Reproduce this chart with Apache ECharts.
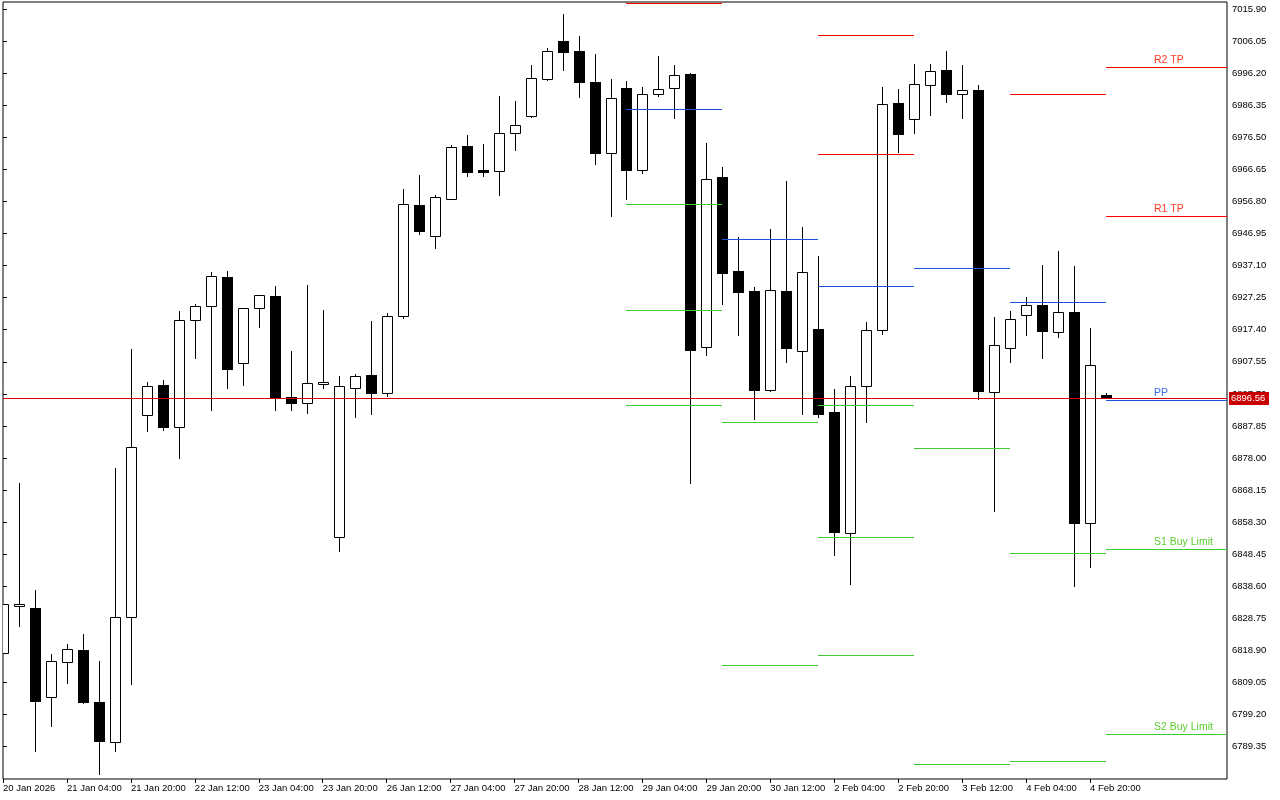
<!DOCTYPE html>
<html><head><meta charset="utf-8">
<script src="https://cdn.jsdelivr.net/npm/echarts@6/dist/echarts.min.js"></script>
<style>html,body{margin:0;padding:0;background:#fff}#chart{width:1280px;height:800px}</style>
</head><body><div id="chart"></div>
<script>
// H4 bar times (index = bar number)
const times = [
 '20 Jan 12:00','20 Jan 16:00','20 Jan 20:00','21 Jan 00:00','21 Jan 04:00','21 Jan 08:00','21 Jan 12:00','21 Jan 16:00','21 Jan 20:00',
 '22 Jan 00:00','22 Jan 04:00','22 Jan 08:00','22 Jan 12:00','22 Jan 16:00','22 Jan 20:00',
 '23 Jan 00:00','23 Jan 04:00','23 Jan 08:00','23 Jan 12:00','23 Jan 16:00','23 Jan 20:00',
 '26 Jan 00:00','26 Jan 04:00','26 Jan 08:00','26 Jan 12:00','26 Jan 16:00','26 Jan 20:00',
 '27 Jan 00:00','27 Jan 04:00','27 Jan 08:00','27 Jan 12:00','27 Jan 16:00','27 Jan 20:00',
 '28 Jan 00:00','28 Jan 04:00','28 Jan 08:00','28 Jan 12:00','28 Jan 16:00','28 Jan 20:00',
 '29 Jan 00:00','29 Jan 04:00','29 Jan 08:00','29 Jan 12:00','29 Jan 16:00','29 Jan 20:00',
 '30 Jan 00:00','30 Jan 04:00','30 Jan 08:00','30 Jan 12:00','30 Jan 16:00','30 Jan 20:00',
 '2 Feb 00:00','2 Feb 04:00','2 Feb 08:00','2 Feb 12:00','2 Feb 16:00','2 Feb 20:00',
 '3 Feb 00:00','3 Feb 04:00','3 Feb 08:00','3 Feb 12:00','3 Feb 16:00','3 Feb 20:00',
 '4 Feb 00:00','4 Feb 04:00','4 Feb 08:00','4 Feb 12:00','4 Feb 16:00','4 Feb 20:00',
 '5 Feb 00:00'
];
const open = [6818.03,6832.47,6831.85,6804.52,6815.45,6819.05,6803.07,6790.88,6829.09,6891.12,
 6900.33,6887.44,6920.48,6924.60,6933.59,6907.09,6923.98,6927.76,6896.74,6894.81,
 6900.64,6853.72,6899.66,6903.50,6897.91,6921.50,6955.58,6946.28,6957.67,6973.83,
 6966.46,6966.03,6977.97,6982.92,6994.31,7005.95,7002.88,6993.33,6971.83,6991.55,
 6966.55,6989.89,6991.55,6995.94,6912.01,6964.31,6935.44,6929.30,6898.80,6929.30,
 6910.78,6917.63,6892.14,6855.07,6900.03,6917.23,6986.94,6982.03,6992.47,6997.17,
 6989.70,6990.93,6898.19,6911.70,6921.83,6924.90,6916.61,6922.75,6857.96,6897.36];
const close = [6833.08,6833.08,6803.47,6815.57,6819.26,6803.07,6791.19,6829.09,6881.30,6900.03,
 6887.62,6920.30,6924.60,6933.81,6905.43,6923.98,6927.97,6896.53,6894.99,6900.95,
 6901.26,6900.00,6903.16,6898.12,6921.50,6955.92,6947.81,6958.13,6973.49,6965.90,
 6965.69,6977.76,6980.15,6994.65,7002.88,7002.76,6993.54,6971.83,6988.72,6966.55,
 6989.70,6991.24,6995.54,6911.27,6963.60,6934.92,6929.08,6898.98,6929.51,6911.88,
 6935.04,6891.61,6855.38,6900.03,6917.23,6986.63,6977.60,6992.77,6996.77,6989.89,
 6990.93,6898.68,6912.62,6920.60,6924.90,6917.10,6922.75,6858.14,6906.48,6896.56];
const low = [6818.03,6826.51,6788.12,6795.80,6809.00,6802.80,6781.06,6788.12,6808.70,6886.39,
 6886.70,6878.10,6908.81,6892.84,6899.60,6900.52,6918.33,6892.84,6892.84,6891.92,
 6899.60,6849.54,6890.45,6891.64,6897.14,6920.94,6946.92,6942.65,6957.50,6964.71,
 6964.71,6958.90,6972.72,6982.70,6994.10,6997.29,6988.94,6968.33,6952.42,6957.64,
 6965.63,6989.27,6982.33,6870.42,6909.73,6925.21,6915.87,6890.08,6898.60,6907.58,
 6891.37,6890.51,6848.31,6839.41,6889.16,6916.00,6972.08,6977.91,6983.44,6987.43,
 6982.52,6896.04,6861.82,6907.58,6915.87,6908.81,6915.26,6838.79,6844.63,6896.40];
const high = [6833.08,6870.33,6837.47,6817.72,6820.89,6823.96,6815.67,6874.85,6911.39,6901.35,
 6901.96,6923.15,6925.30,6935.04,6935.44,6924.20,6928.10,6930.83,6910.87,6931.14,
 6923.46,6903.19,6903.81,6920.08,6922.48,6960.62,6964.92,6958.78,6974.13,6977.20,
 6974.44,6989.18,6987.65,6998.70,7003.86,7014.40,7007.61,7001.99,6994.40,6993.79,
 6991.85,7001.47,6998.70,6996.20,6974.75,6967.38,6945.88,6930.52,6948.34,6963.08,
 6948.95,6940.04,6899.20,6903.19,6919.77,6991.85,6991.24,6999.01,6999.01,7003.00,
 6998.70,6992.56,6921.31,6923.15,6927.45,6937.28,6941.58,6936.88,6917.84,6897.97];

// Daily pivot levels: each day runs from its first bar to the next day's first bar
const levelDayStart = [39, 45, 51, 57, 63, 69];
const levelDayEnd   = [45, 51, 57, 63, 69, -1];   // -1: extends to the right edge
const resistance = [[7017.65], [], [7007.82, 6971.28], [], [6989.70], [6998.00, 6952.24]];
const pivot = [6985.10, 6945.17, 6930.74, 6936.27, 6925.83, 6895.73];
const support = [[6955.92, 6923.37, 6894.19], [6888.97, 6814.44], [6894.19, 6853.75, 6817.42],
                 [6881.08, 6783.94], [6848.74, 6784.95], [6849.97, 6793.15]];
const currentResistanceLabels = ['R2 TP', 'R1 TP'];
const currentPivotLabel = 'PP';
const currentSupportLabels = ['S1 Buy Limit', 'S2 Buy Limit'];

const yTickValues = [7015.90,7006.05,6996.20,6986.35,6976.50,6966.65,6956.80,6946.95,6937.10,6927.25,
 6917.40,6907.55,6897.70,6887.85,6878.00,6868.15,6858.30,6848.45,6838.60,6828.75,6818.90,6809.05,6799.20,6789.35];
const xTickIndex = [0,4,8,12,16,20,24,28,32,36,40,44,48,52,56,60,64,68];
const xTickLabels = ['20 Jan 2026','21 Jan 04:00','21 Jan 20:00','22 Jan 12:00','23 Jan 04:00','23 Jan 20:00',
 '26 Jan 12:00','27 Jan 04:00','27 Jan 20:00','28 Jan 12:00','29 Jan 04:00','29 Jan 20:00','30 Jan 12:00',
 '2 Feb 04:00','2 Feb 20:00','3 Feb 12:00','4 Feb 04:00','4 Feb 20:00'];

const yMin = 6779.43, yMax = 7018.05;
const xMin = 0, xMax = 76.5625;

const COL_R = '#FF0000', COL_P = '#1E52DC', COL_S = '#3CCB32';
const TXT_R = '#FF3A22', TXT_P = '#3A6CF0', TXT_S = '#5ACD2E';
const FONT = 'Liberation Sans, Arial, sans-serif';

const candleData = times.map((t, i) => [i, open[i], close[i], low[i], high[i]]);

const levelData = [];
levelDayStart.forEach((s, d) => {
  const last = d === levelDayStart.length - 1;
  resistance[d].forEach((v, k) => levelData.push([s, levelDayEnd[d], v, 0, last ? k : -1]));
  levelData.push([s, levelDayEnd[d], pivot[d], 1, last ? 0 : -1]);
  support[d].forEach((v, k) => levelData.push([s, levelDayEnd[d], v, 2, last ? k : -1]));
});

function renderCandle(params, api) {
  const i = api.value(0), o = api.value(1), c = api.value(2), l = api.value(3), h = api.value(4);
  const x = Math.round(api.coord([i, o])[0]);
  const yO = Math.round(api.coord([i, o])[1]);
  const yC = Math.round(api.coord([i, c])[1]);
  const yL = Math.round(api.coord([i, l])[1]);
  const yH = Math.round(api.coord([i, h])[1]);
  const hw = Math.floor(api.size([1, 0])[0] / 3);
  const top = Math.min(yO, yC), bot = Math.max(yO, yC);
  const bull = c >= o;
  const children = [{
    type: 'line',
    shape: { x1: x + 0.5, y1: yH, x2: x + 0.5, y2: yL + 1 },
    style: { stroke: '#000', lineWidth: 1 }
  }];
  if (bull) {
    children.push({
      type: 'rect',
      shape: { x: x - hw + 0.5, y: top + 0.5, width: 2 * hw, height: Math.max(bot - top, 1) },
      style: { fill: '#fff', stroke: '#000', lineWidth: 1 }
    });
  } else {
    children.push({
      type: 'rect',
      shape: { x: x - hw, y: top, width: 2 * hw + 1, height: Math.max(bot - top, 1) + 1 },
      style: { fill: '#000' }
    });
  }
  return { type: 'group', children };
}

function renderLevel(params, api) {
  const cs = params.coordSys;
  const s = api.value(0), e = api.value(1), v = api.value(2), kind = api.value(3), li = api.value(4);
  const x0 = Math.round(api.coord([s, v])[0]);
  const x1 = e < 0 ? cs.x + cs.width : Math.round(api.coord([e, v])[0]);
  const y = Math.round(api.coord([s, v])[1]) + 0.5;
  const color = [COL_R, COL_P, COL_S][kind];
  const children = [{
    type: 'line', shape: { x1: x0, y1: y, x2: x1, y2: y },
    style: { stroke: color, lineWidth: 1 }
  }];
  if (li >= 0) {
    const text = kind === 0 ? currentResistanceLabels[li] : kind === 1 ? currentPivotLabel : currentSupportLabels[li];
    const band = api.size([1, 0])[0];
    children.push({
      type: 'text',
      x: x0 + 3 * band, y: y - 1.5,
      style: { text, fill: [TXT_R, TXT_P, TXT_S][kind], font: '10.5px ' + FONT, align: 'left', verticalAlign: 'bottom' }
    });
  }
  return { type: 'group', children };
}

function renderPrice(params, api) {
  const cs = params.coordSys;
  const v = api.value(1);
  const y = Math.round(api.coord([api.value(0), v])[1]) + 0.5;
  const right = cs.x + cs.width;
  return {
    type: 'group', children: [
      { type: 'line', shape: { x1: cs.x, y1: y, x2: right, y2: y }, style: { stroke: '#D80000', lineWidth: 1 } },
      { type: 'rect', shape: { x: right + 2, y: y - 6.5, width: 40, height: 13 }, style: { fill: '#C80000' } },
      { type: 'text', x: right + 4, y: y, style: { text: v.toFixed(2), fill: '#fff', font: '9.5px ' + FONT, align: 'left', verticalAlign: 'middle' } }
    ]
  };
}

const chart = echarts.init(document.getElementById('chart'), null, { renderer: 'canvas' });
chart.setOption({
  animation: false,
  backgroundColor: '#fff',
  grid: { left: 2, top: 2, width: 1225, height: 777, show: true, borderColor: '#000', borderWidth: 1, backgroundColor: 'transparent' },
  xAxis: {
    type: 'value', min: xMin, max: xMax,
    axisLine: { show: false },
    splitLine: { show: false },
    axisTick: { show: true, customValues: xTickIndex, length: 4, lineStyle: { color: '#000' } },
    axisLabel: {
      customValues: xTickIndex, align: 'left', margin: 4, color: '#000',
      fontFamily: FONT, fontSize: 9.5,
      formatter: v => xTickLabels[xTickIndex.indexOf(Math.round(v))] || ''
    }
  },
  yAxis: {
    type: 'value', position: 'right', min: yMin, max: yMax, scale: true,
    axisLine: { show: false },
    splitLine: { show: false },
    axisTick: { show: true, customValues: yTickValues, length: 4, lineStyle: { color: '#000' } },
    axisLabel: {
      customValues: yTickValues, margin: 5, color: '#000',
      fontFamily: FONT, fontSize: 9.5,
      formatter: v => v.toFixed(2)
    }
  },
  series: [
    { type: 'custom', name: 'candles', renderItem: renderCandle, data: candleData, clip: true, z: 2,
      encode: { x: 0, y: [1, 2, 3, 4] } },
    { type: 'custom', name: 'levels', renderItem: renderLevel, data: levelData, clip: false, z: 3,
      encode: { x: 0, y: 2 } },
    { type: 'custom', name: 'price', renderItem: renderPrice, data: [[candleData.length - 1, close[close.length - 1]]],
      clip: false, z: 4, encode: { x: 0, y: 1 } }
  ]
});
</script>
</body></html>
